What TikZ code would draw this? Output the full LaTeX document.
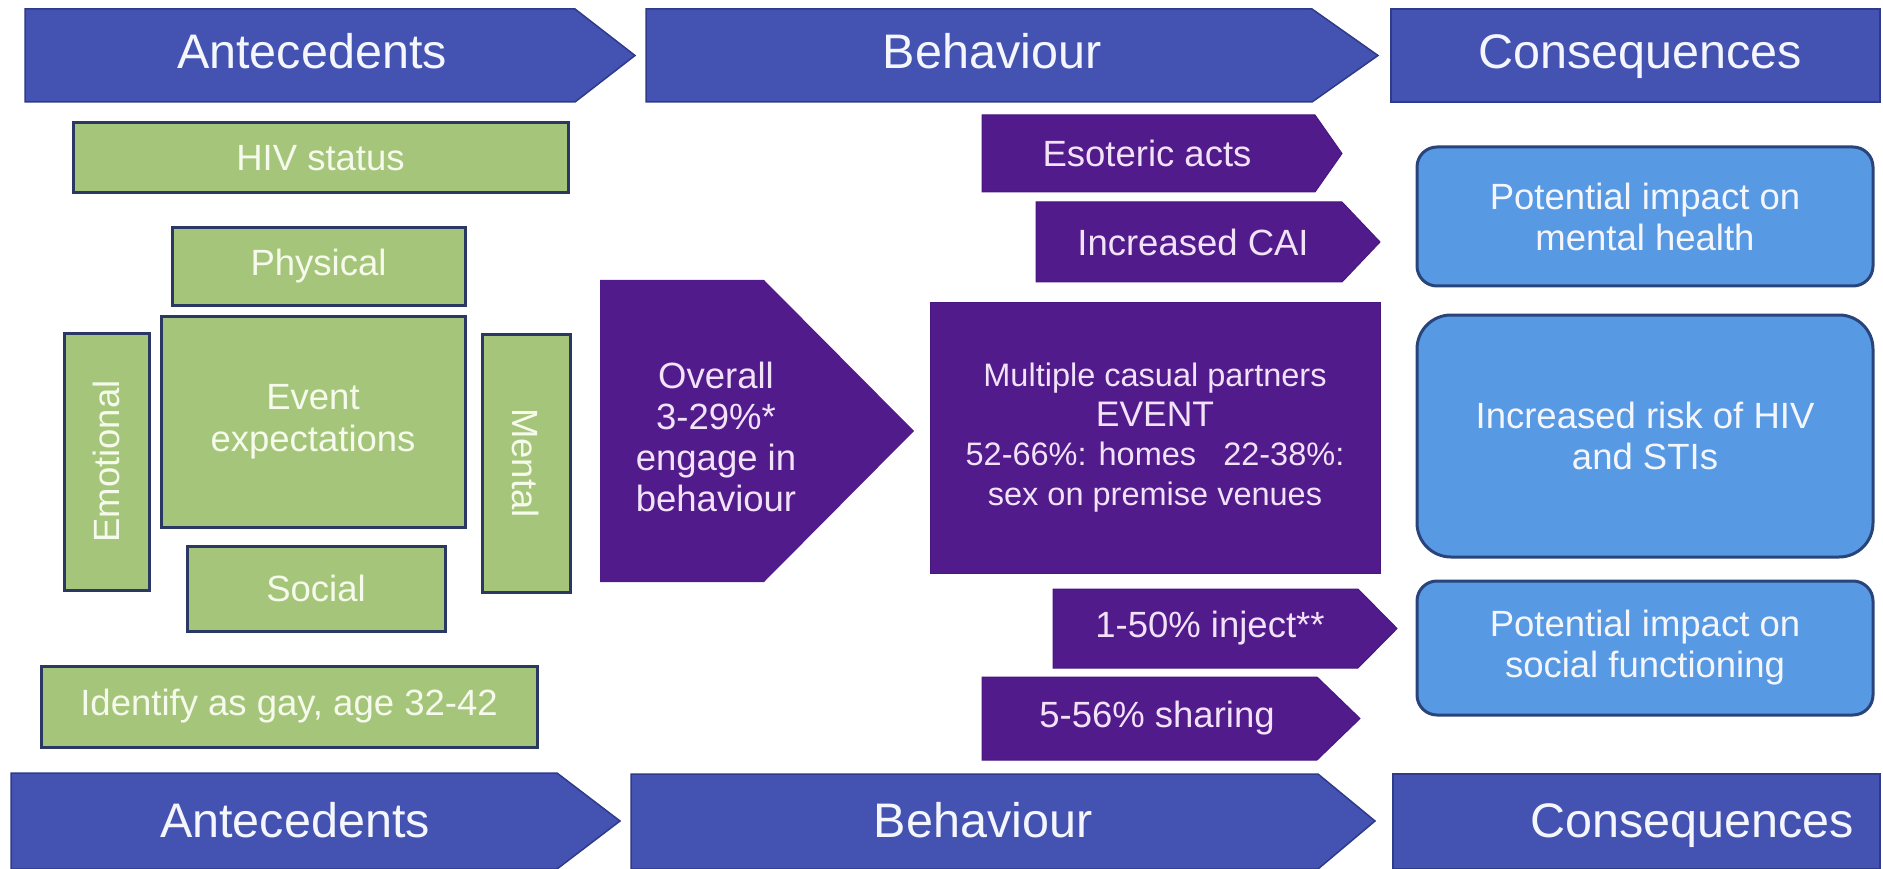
\documentclass[tikz,border=0pt]{standalone}
\usepackage{fontspec}
\setmainfont{Liberation Sans}

\definecolor{bannerblue}{RGB}{68,83,178}
\definecolor{bannerline}{RGB}{46,58,138}
\definecolor{boxgreen}{RGB}{165,198,122}
\definecolor{greenline}{RGB}{44,56,100}
\definecolor{deeppurple}{RGB}{81,27,140}
\definecolor{purpleline}{RGB}{72,22,128}
\definecolor{skyblue}{RGB}{88,153,228}
\definecolor{skyline}{RGB}{40,68,122}
\definecolor{lighttext}{RGB}{244,246,252}
\definecolor{greentext}{RGB}{246,250,236}
\definecolor{lilactext}{RGB}{242,226,248}

\begin{document}
\begin{tikzpicture}[x=1pt,y=-1pt,
    banner/.style={fill=bannerblue,draw=bannerline,line width=1.5pt},
    bantext/.style={anchor=base,inner sep=0pt,text=lighttext,font=\fontsize{48.5}{56}\selectfont},
    greenbox/.style={fill=boxgreen,draw=greenline,line width=3pt,inner sep=0pt,align=center,
        text=greentext,font=\fontsize{36.5}{42}\selectfont},
    purplebox/.style={fill=deeppurple,draw=purpleline,line width=1pt},
    purpletext/.style={inner sep=0pt,align=center,text=lilactext,font=\fontsize{36.5}{41}\selectfont},
    bluebox/.style={fill=skyblue,draw=skyline,line width=3pt,rounded corners=20pt,inner sep=0pt,
        align=center,text=lighttext,font=\fontsize{36.5}{41}\selectfont,
        minimum width=456pt}]
\useasboundingbox[fill=white] (0,0) rectangle (1883,869);

% top banners
\draw[banner] (25,9) -- (575,9) -- (635,55.5) -- (575,102) -- (25,102) -- cycle;
\draw[banner] (646,9) -- (1312,9) -- (1378,55.5) -- (1312,102) -- (646,102) -- cycle;
\draw[banner] (1391,9) rectangle (1880,102);
\node[bantext] (antTop) at (312,69) {Antecedents};
\node[bantext] (behTop) at (992,69) {Behaviour};
\node[bantext] (conTop) at (1640,69) {Consequences};

% antecedents
\node[greenbox,minimum width=495pt,minimum height=70pt] (hiv) at (320.5,158) {HIV status};
\node[greenbox,minimum width=293pt,minimum height=77pt] (phys) at (318.5,266.5) {Physical};
\node[greenbox,minimum width=304pt,minimum height=211pt] (evexp) at (313,421.5) {Event\\expectations};
\node[greenbox,rotate=90,minimum width=257pt,minimum height=85pt] (emo) at (106.5,461.5) {Emotional};
\node[greenbox,rotate=-90,minimum width=258pt,minimum height=88pt] (ment) at (526,463) {Mental};
\node[greenbox,minimum width=258pt,minimum height=85pt] (soc) at (316,588.5) {Social};
\node[greenbox,minimum width=496pt,minimum height=81pt] (gay) at (289,706.5) {Identify as gay, age 32-42};

% behaviour
\fill[deeppurple] (600,280) -- (764,280) -- (914,431) -- (764,582) -- (600,582) -- cycle;
\node[purpletext] (overall) at (716,437) {Overall\\3-29\%*\\engage in\\behaviour};
\draw[purplebox] (982,115) -- (1315,115) -- (1342,153.5) -- (1315,192) -- (982,192) -- cycle;
\node[purpletext] (eso) at (1147,153.5) {Esoteric acts};
\draw[purplebox] (1036,202) -- (1342,202) -- (1380,242) -- (1342,282) -- (1036,282) -- cycle;
\node[purpletext] (cai) at (1193,242) {Increased CAI};
\node[purplebox,minimum width=450pt,minimum height=271pt,inner sep=0pt,align=center,
    text=lilactext,font=\fontsize{32.5}{39.5}\selectfont] (event) at (1155,437.5)
    {Multiple casual partners\\{\fontsize{35.5}{39.5}\selectfont EVENT}\\52-66\%: homes\ \ \ 22-38\%:\\sex on premise venues};
\draw[purplebox] (1053,589) -- (1358,589) -- (1397,628.5) -- (1358,668) -- (1053,668) -- cycle;
\node[purpletext] (inject) at (1210,628.5) {1-50\% inject**};
\draw[purplebox] (982,677) -- (1317,677) -- (1360,718.5) -- (1317,760) -- (982,760) -- cycle;
\node[purpletext] (share) at (1157,718.5) {5-56\% sharing};

% consequences
\node[bluebox,minimum height=139pt] (mh) at (1645,216.5) {Potential impact on\\mental health};
\node[bluebox,minimum height=242pt,rounded corners=34pt] (risk) at (1645,436) {Increased risk of HIV\\and STIs};
\node[bluebox,minimum height=134pt] (sf) at (1645,648) {Potential impact on\\social functioning};

% bottom banners
\draw[banner] (11,773) -- (557,773) -- (620,821) -- (557,869) -- (11,869) -- cycle;
\draw[banner] (631,774) -- (1318,774) -- (1375,821) -- (1318,869) -- (631,869) -- cycle;
\draw[banner] (1393,774) rectangle (1880,869);
\node[bantext] (antBot) at (295,837) {Antecedents};
\node[bantext] (behBot) at (983,837) {Behaviour};
\node[bantext] (conBot) at (1692,837) {Consequences};
\end{tikzpicture}
\end{document}
